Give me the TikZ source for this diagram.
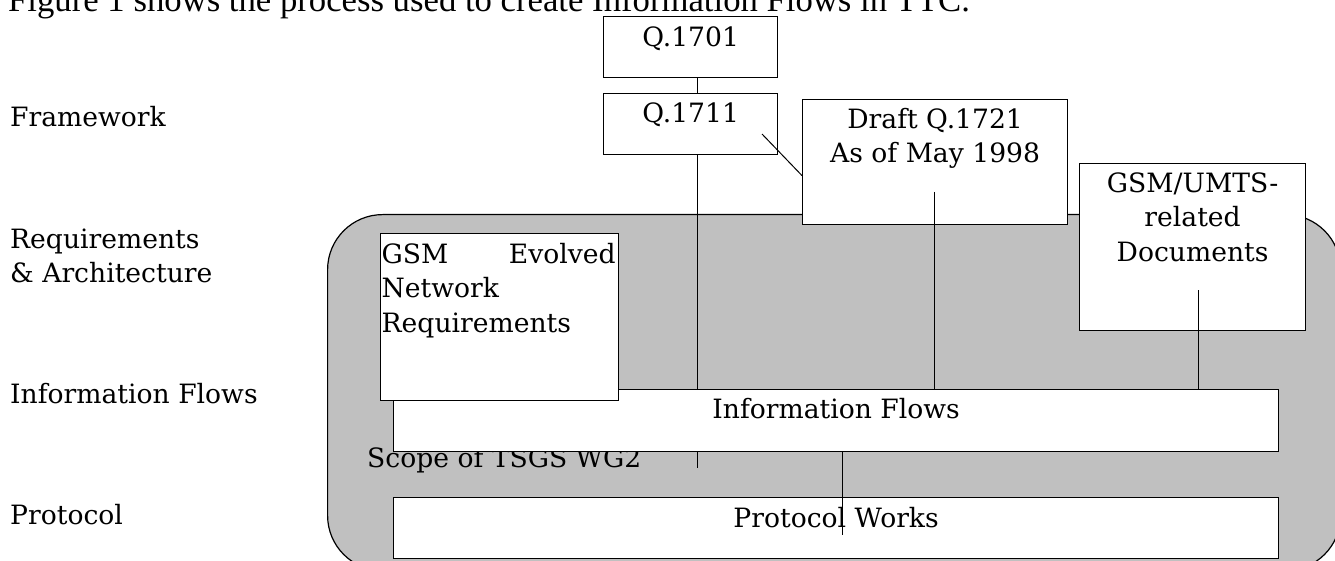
\documentclass[tikz,border=0pt]{standalone}
\usepackage{fontspec}
\setmainfont{DejaVu Serif}
\newfontfamily\introfont{Liberation Serif}
\usepackage{tikz}
\usetikzlibrary{positioning, calc}
\definecolor{cScope}{RGB}{192,192,192}
\tikzset{
	docbox/.style   ={rectangle, draw=black, line width=1.2pt, fill=white, inner sep=0pt, anchor=north west},
	scopebox/.style ={rectangle, draw=black, line width=1.2pt, fill=cScope, rounded corners=55pt, inner sep=0pt, anchor=north west},
	% text styles
	boxtext/.style  ={inner sep=0pt, anchor=base},
	multitext/.style={inner sep=0pt, anchor=north, align=center},
	rowlabel/.style ={inner sep=0pt, anchor=base west},
	link/.style     ={line width=1pt, black},
}

\begin{document}
\begin{tikzpicture}[x=1pt, y=-1pt, font=\fontsize{26.6pt}{34.5pt}\selectfont]
	\useasboundingbox (0,0) rectangle (1335,561);
	\clip (0,0) rectangle (1335,561);
	\node[rowlabel, font=\introfont\fontsize{34.7pt}{40pt}\selectfont] (intro) at (8,12) {Figure 1 shows the process used to create Information Flows in TTC.};
	% row labels
	\node[rowlabel] (lblframe) at (10,127) {Framework};
	\node[rowlabel, anchor=north west, align=left] (lblreq) at (10,223.85) {\strut Requirements\\\& Architecture};
	\node[rowlabel] (lblflow) at (10,403) {Information Flows};
	\node[rowlabel] (lblproto) at (10,524) {Protocol};
	% scope area
	\node[scopebox, minimum width=1013pt, minimum height=356pt] (scope) at (327,214) {};
	\node[rowlabel] (scopename) at (367,467) {Scope of TSGS WG2};
	\node[docbox, minimum width=885pt, minimum height=62pt] (flows) at (393,389) {};
	\node[boxtext] (flowsname) at ([yshift=-29pt]flows.north) {Information Flows};
	\node[docbox, minimum width=885pt, minimum height=61pt] (proto) at (393,497) {};
	\node[boxtext] (protoname) at ([yshift=-30pt]proto.north) {Protocol Works};
	\node[docbox, minimum width=238pt, minimum height=167pt] (gsmreq) at (380,233) {};
	\node[inner sep=0pt, anchor=north west, text width=234pt, align=left] (gsmreqname) at ([shift={(1.5pt,-5.85pt)}]gsmreq.north west) {\noindent\strut GSM\hfill Evolved\\Network\\Requirements};
	% documents
	\node[docbox, minimum width=174pt, minimum height=61pt] (q1701) at (603,16) {};
	\node[boxtext] (q1701name) at ([yshift=-30.5pt]q1701.north) {Q.1701};
	\node[docbox, minimum width=174pt, minimum height=61pt] (q1711) at (603,93) {};
	\node[boxtext] (q1711name) at ([yshift=-29.5pt]q1711.north) {Q.1711};
	\node[docbox, minimum width=265pt, minimum height=125pt] (draft) at (802,99) {};
	\node[multitext] (draftname) at ([yshift=-4.85pt]draft.north) {\strut Draft Q.1721\\As of May 1998};
	\node[docbox, minimum width=226pt, minimum height=167pt] (umts) at (1079,163) {};
	\node[multitext] (umtsname) at ([yshift=-4.85pt]umts.north) {\strut GSM/UMTS-\\related\\Documents};
	% connectors
	\coordinate (trunk) at ([xshift=7pt]q1711.south);
	\coordinate (q1711tick) at (762,134);
	\coordinate (draftfoot) at (934,192);
	\coordinate (umtsfoot) at (1198,290);
	\coordinate (protofoot) at (842,535);
	\draw[link] ([xshift=7pt]q1701.south) -- ([xshift=7pt]q1711.north);
	\draw[link] (trunk) -- (trunk |- flows.north);
	\draw[link] (trunk |- flows.south) -- ++(0,16);
	\draw[link] (q1711tick) -- ([yshift=-13.5pt]draft.west);
	\draw[link] (draftfoot) -- (draftfoot |- flows.north);
	\draw[link] (umtsfoot) -- (umtsfoot |- flows.north);
	\draw[link] (protofoot |- flows.south) -- (protofoot);
\end{tikzpicture}
\end{document}
